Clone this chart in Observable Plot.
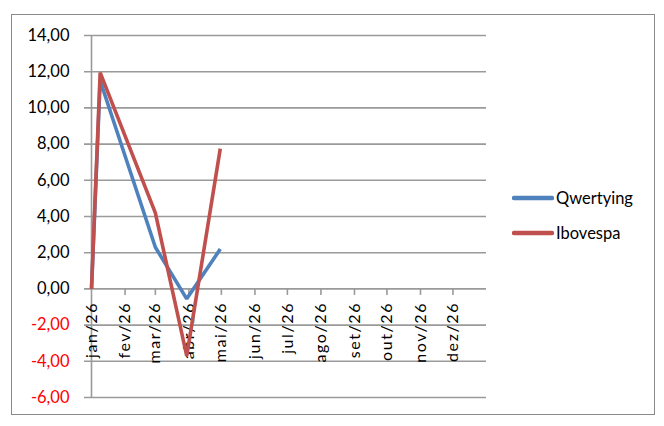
<!DOCTYPE html>
<html>
<head>
<meta charset="utf-8">
<script src="https://cdn.jsdelivr.net/npm/d3@7"></script>
<script src="https://cdn.jsdelivr.net/npm/@observablehq/plot@0.6"></script>
<style>
  html, body { margin: 0; padding: 0; background: #fff; }
  #wrap { position: relative; width: 664px; height: 426px; font-family: Lato, "Open Sans", sans-serif; }
  #frame { position: absolute; left: 11px; top: 14px; width: 644px; height: 401px; border: 1.5px solid #8a8a8a; box-sizing: border-box; pointer-events: none; }
  #chart { position: absolute; left: 0; top: 0; }
  #chart .xl text { letter-spacing: 1.6px; }
  #legend { position: absolute; left: 512px; top: 186px; font-size: 16.5px; color: #000; }
  .item { display: flex; align-items: center; height: 24px; margin-bottom: 11px; }
  .sw { width: 42px; height: 24px; margin-right: 2px; }
</style>
</head>
<body>
<div id="wrap">
  <div id="chart"></div>
  <div id="frame"></div>
  <div id="legend"></div>
</div>
<script>
// ---- data ----
const dates = ["2026-01-01", "2026-01-09", "2026-03-01", "2026-03-30", "2026-04-30"];
const qwertying = [0, 11.5, 2.3, -0.55, 2.2];
const ibovespa = [0, 11.95, 4.2, -3.7, 7.75];
const seriesNames = ["Qwertying", "Ibovespa"];
const seriesColors = ["#4F81BD", "#C0504D"];
const monthLabels = ["jan/26", "fev/26", "mar/26", "abr/26", "mai/26", "jun/26", "jul/26", "ago/26", "set/26", "out/26", "nov/26", "dez/26"];
const yTicks = [-6, -4, -2, 0, 2, 4, 6, 8, 10, 12, 14];

// ---- build tables ----
const start = new Date(Date.UTC(2026, 0, 1));
const end = new Date(Date.UTC(2027, 0, 1));
const months = monthLabels.map((label, i) => ({label, date: new Date(Date.UTC(2026, i, 1))}));
const rows = [];
[qwertying, ibovespa].forEach((vals, s) => {
  vals.forEach((v, i) => rows.push({series: seriesNames[s], date: new Date(dates[i] + "T00:00:00Z"), value: v}));
});
const fmt = d => d.toFixed(2).replace(".", ",");
const grid = "#9a9a9a";

const chart = Plot.plot({
  width: 664,
  height: 426,
  marginLeft: 91,
  marginRight: 178,
  marginTop: 35,
  marginBottom: 29,
  style: {fontFamily: "Lato, 'Open Sans', sans-serif", background: "transparent"},
  x: {type: "utc", domain: [start, end], axis: null},
  y: {domain: [-6, 14], axis: null},
  color: {domain: seriesNames, range: seriesColors},
  marks: [
    Plot.ruleY(yTicks, {y: d => d, stroke: grid, strokeWidth: 1.6, insetLeft: -7}),
    Plot.ruleX([start], {stroke: grid, strokeWidth: 1.6}),
    Plot.ruleX(months.slice(1), {x: "date", y1: 0, y2: -0.36, stroke: grid, strokeWidth: 1.6}),
    Plot.text(yTicks, {y: d => d, text: fmt, frameAnchor: "left", textAnchor: "end", dx: -22, fontSize: 16.5, fill: d => d < 0 ? "red" : "black"}),
    Plot.text(months, {x: "date", y: 0, text: "label", rotate: -90, textAnchor: "end", dy: 13, fontSize: 16, fill: "black", className: "xl"}),
    Plot.line(rows, {x: "date", y: "value", z: "series", stroke: "series", strokeWidth: 3.6, strokeLinejoin: "miter", strokeLinecap: "butt"})
  ]
});
document.getElementById("chart").appendChild(chart);

const legend = document.getElementById("legend");
seriesNames.forEach((name, i) => {
  const item = document.createElement("div");
  item.className = "item";
  item.innerHTML = `<svg class="sw" width="42" height="24"><line x1="2" y1="12" x2="40" y2="12" stroke="${seriesColors[i]}" stroke-width="4.5" stroke-linecap="round"/></svg><span>${name}</span>`;
  legend.appendChild(item);
});
</script>
</body>
</html>
